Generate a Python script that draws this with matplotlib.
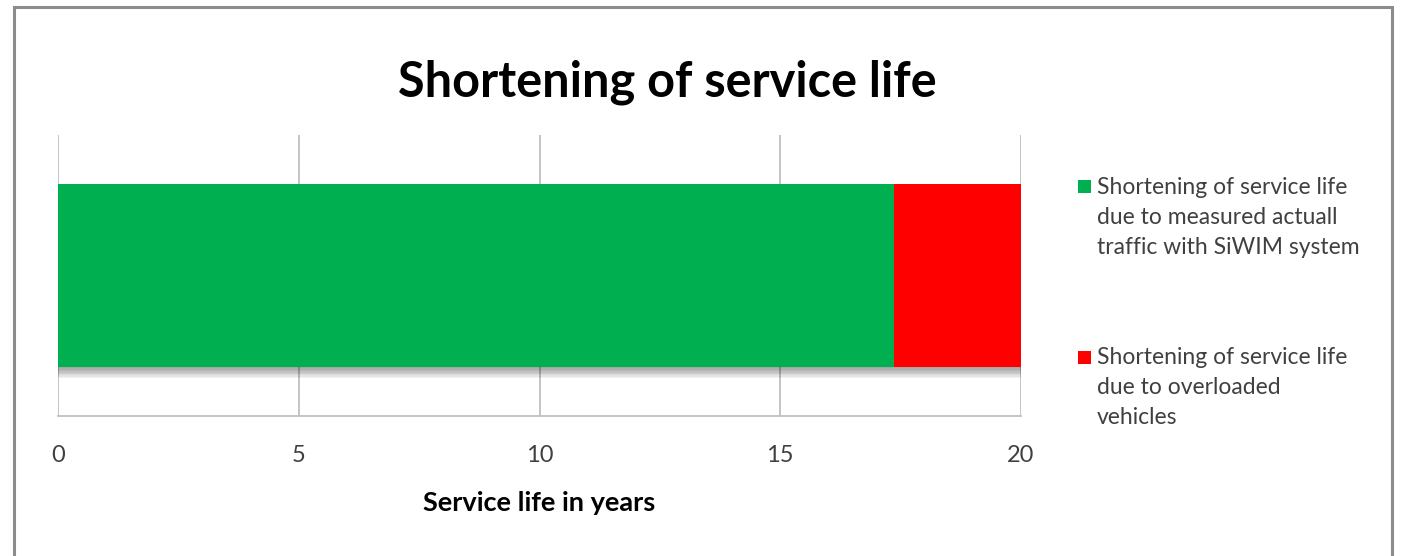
import matplotlib
matplotlib.use("Agg")
import matplotlib.pyplot as plt
import matplotlib.patches as mpatches
import matplotlib.patheffects as pe

# service life split (years)
category = ["Service life"]
measured_traffic = [17.36]
overloaded = [2.64]
labels = ["Shortening of service life\ndue to measured actuall\ntraffic with SiWIM system",
          "Shortening of service life\ndue to overloaded\nvehicles"]
colors = ["#00b050", "#ff0000"]
xticks = [0, 5, 10, 15, 20]

plt.rcParams['font.family'] = ['Lato', 'DejaVu Sans']
txt = "#404040"
W, H = 1401, 556

fig = plt.figure(figsize=(W / 100, H / 100), dpi=100)
ax = fig.add_axes([58/W, 1 - 416/H, 963/W, 281/H])

# soft shadow under the bar
shadow = [pe.SimplePatchShadow(offset=(0, -k), shadow_rgbFace="black", alpha=0.05)
          for k in range(1, 9)] + [pe.Normal()]

ax.barh(category, measured_traffic, height=0.651, color=colors[0],
        path_effects=shadow, zorder=3)
ax.barh(category, overloaded, left=measured_traffic, height=0.651,
        color=colors[1], path_effects=shadow, zorder=3)

ax.set_xlim(0, 20)
ax.set_ylim(-0.5, 0.5)
ax.set_xticks(xticks)
ax.set_yticks([])
ax.grid(axis="x", color="#bfbfbf", linewidth=1.3, zorder=0)
for s in ["top", "left", "right"]:
    ax.spines[s].set_visible(False)
ax.spines["bottom"].set_color("#bfbfbf")
ax.spines["bottom"].set_linewidth(1.3)
ax.tick_params(axis="x", length=0, pad=21, labelsize=17, labelcolor=txt)
ax.set_xlabel("Service life in years", fontsize=19.5, fontweight="bold",
              color="black", labelpad=18)

fig.text(667/W, 1 - 82/H, "Shortening of service life", ha="center",
         va="center", fontsize=35, fontweight="bold", color="black")

# legend: square marker next to the first line of each label
for top, lab, col in zip([186, 357], labels, colors):
    fig.patches.append(mpatches.Rectangle((1078/W, 1 - 193/H + (186 - top)/H),
                                          13/W, 13/H, transform=fig.transFigure,
                                          facecolor=col, edgecolor="none"))
    for i, line in enumerate(lab.split("\n")):
        fig.text(1097/W, 1 - (top + 1 + 30 * i)/H, line, ha="left", va="center",
                 fontsize=16.5, color=txt)

# chart border
fig.patches.append(mpatches.Rectangle((14/W, -0.05), 1378/W, 1.05 - 7/H,
                                      transform=fig.transFigure, fill=False,
                                      edgecolor="#8c8c8c", linewidth=2.2))

fig.savefig("out.png", dpi=100)
